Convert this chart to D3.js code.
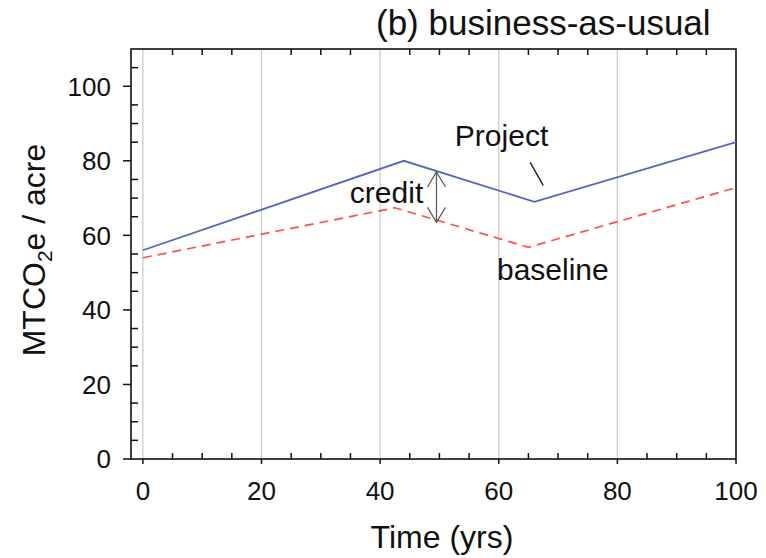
<!DOCTYPE html>
<html>
<head>
<meta charset="utf-8">
<script src="https://cdn.jsdelivr.net/npm/d3@7"></script>
<style>
  html, body { margin: 0; padding: 0; background: #fff; }
  svg { display: block; }
  text { font-family: "Liberation Sans", Arial, sans-serif; fill: #111; }
</style>
</head>
<body>
<div id="chart"></div>
<script>
// ---- data ----
const projectYears  = [0, 44, 66, 100];
const projectValues = [56, 80, 69, 85];
const baselineYears  = [0, 42.5, 65, 100];
const baselineValues = [54, 67.4, 56.8, 72.8];
const xTickValues = [0, 20, 40, 60, 80, 100];
const yTickValues = [0, 20, 40, 60, 80, 100];
const titleText = "(b) business-as-usual";
const xTitle = "Time (yrs)";
const labelProject = "Project";
const labelCredit = "credit";
const labelBaseline = "baseline";
// annotation anchors in data units
const projectLabelPos = [52.6, 83.9];
const projectLeader = [[65.3, 79.6], [67.5, 73.4]];
const creditLabelPos = [34.9, 68.7];
const creditArrow = [49.5, 77.0, 63.5];
const baselineLabelPos = [59.7, 48.1];

// ---- layout ----
const W = 766, H = 558;
const svg = d3.select("#chart").append("svg").attr("width", W).attr("height", H);

const x = d3.scaleLinear().domain([-2, 100]).range([131, 736]);
const y = d3.scaleLinear().domain([0, 110]).range([459, 49]);
const x0 = x.range()[0], x1 = x.range()[1], y0 = y.range()[0], y1 = y.range()[1];

// gridlines
svg.append("g").selectAll("line")
  .data(xTickValues.filter(d => d < 100))
  .join("line")
  .attr("x1", d => x(d)).attr("x2", d => x(d))
  .attr("y1", y1).attr("y2", y0)
  .attr("stroke", "#c8c8c8").attr("stroke-width", 1.2);

// minor ticks
const xMinor = d3.range(5, 100, 5).filter(d => d % 20 !== 0);
const yMinor = d3.range(5, 110, 5).filter(d => d % 20 !== 0);
const tickG = svg.append("g").attr("stroke", "#111").attr("stroke-width", 1.5);
tickG.selectAll(".xb").data(xMinor).join("line")
  .attr("x1", d => x(d)).attr("x2", d => x(d)).attr("y1", y0).attr("y2", y0 - 6);
tickG.selectAll(".xt").data(xMinor).join("line")
  .attr("class", "xt")
  .attr("x1", d => x(d)).attr("x2", d => x(d)).attr("y1", y1).attr("y2", y1 + 6);
tickG.selectAll(".yl").data(yMinor).join("line")
  .attr("class", "yl")
  .attr("x1", x0).attr("x2", x0 + 7).attr("y1", d => y(d)).attr("y2", d => y(d));

// major ticks (outward)
tickG.selectAll(".xm").data(xTickValues).join("line")
  .attr("class", "xm")
  .attr("x1", d => x(d)).attr("x2", d => x(d)).attr("y1", y0).attr("y2", y0 + 5);
tickG.selectAll(".ym").data(yTickValues).join("line")
  .attr("class", "ym")
  .attr("x1", x0 - 8).attr("x2", x0).attr("y1", d => y(d)).attr("y2", d => y(d));

// frame
svg.append("rect")
  .attr("x", x0).attr("y", y1).attr("width", x1 - x0).attr("height", y0 - y1)
  .attr("fill", "none").attr("stroke", "#111").attr("stroke-width", 1.6);

// tick labels
svg.append("g").selectAll("text").data(xTickValues).join("text")
  .attr("x", d => x(d)).attr("y", y0 + 41)
  .attr("text-anchor", "middle").attr("font-size", 26)
  .text(d => d);
svg.append("g").selectAll("text").data(yTickValues).join("text")
  .attr("x", 111).attr("y", d => y(d))
  .attr("dy", "0.36em")
  .attr("text-anchor", "end").attr("font-size", 26)
  .text(d => d);

// lines
const line = d3.line().x(d => x(d[0])).y(d => y(d[1]));
svg.append("path")
  .datum(baselineYears.map((t, i) => [t, baselineValues[i]]))
  .attr("d", line).attr("fill", "none")
  .attr("stroke", "#ff4d4d").attr("stroke-width", 1.7)
  .attr("stroke-dasharray", "9,6");
svg.append("path")
  .datum(projectYears.map((t, i) => [t, projectValues[i]]))
  .attr("d", line).attr("fill", "none")
  .attr("stroke", "#5566bb").attr("stroke-width", 1.8);

// annotations
svg.append("text").attr("x", x(projectLabelPos[0])).attr("y", y(projectLabelPos[1]))
  .attr("font-size", 30).text(labelProject);
svg.append("line")
  .attr("x1", x(projectLeader[0][0])).attr("y1", y(projectLeader[0][1]))
  .attr("x2", x(projectLeader[1][0])).attr("y2", y(projectLeader[1][1]))
  .attr("stroke", "#222").attr("stroke-width", 1.4);
svg.append("text").attr("x", x(creditLabelPos[0])).attr("y", y(creditLabelPos[1]))
  .attr("font-size", 30).text(labelCredit);
svg.append("text").attr("x", x(baselineLabelPos[0])).attr("y", y(baselineLabelPos[1]))
  .attr("font-size", 30).text(labelBaseline);

// double arrow
const ax = x(creditArrow[0]), aTop = y(creditArrow[1]), aBot = y(creditArrow[2]);
const arrowG = svg.append("g").attr("stroke", "#555").attr("stroke-width", 1.2).attr("fill", "none");
arrowG.append("line").attr("x1", ax).attr("x2", ax).attr("y1", aTop).attr("y2", aBot);
arrowG.append("path").attr("d", `M${ax - 9},${aTop + 15}L${ax},${aTop}L${ax + 9},${aTop + 15}`);
arrowG.append("path").attr("d", `M${ax - 9},${aBot - 15}L${ax},${aBot}L${ax + 9},${aBot - 15}`);

// title
svg.append("text").attr("x", 376).attr("y", 35).attr("font-size", 35).text(titleText);

// axis titles
svg.append("text").attr("x", 442).attr("y", 548)
  .attr("text-anchor", "middle").attr("font-size", 32).text(xTitle);
const yt = svg.append("text")
  .attr("transform", `translate(45,250) rotate(-90)`)
  .attr("text-anchor", "middle").attr("font-size", 32);
yt.append("tspan").text("MTCO");
yt.append("tspan").attr("font-size", 21).attr("dy", 7).text("2");
yt.append("tspan").attr("dy", -7).text("e / acre");
</script>
</body>
</html>
